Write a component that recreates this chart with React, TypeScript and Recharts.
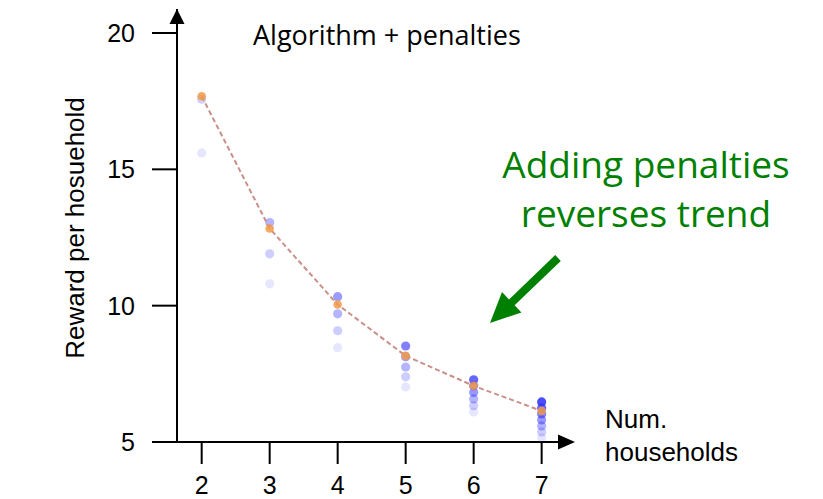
import React from "react"
import { ScatterChart, Scatter, XAxis, YAxis } from "recharts"

// number of households on the x axis
const householdCounts = [2, 3, 4, 5, 6, 7]

// mean reward per household (orange dots, dashed line)
const meanReward = [17.68, 12.83, 10.04, 8.16, 7.06, 6.14]

// individual runs (blue dots), top to bottom for each household count
const runRewards = [
    [17.57, 15.6],
    [13.05, 11.9, 10.8],
    [10.33, 9.7, 9.08, 8.46],
    [8.52, 8.13, 7.75, 7.39, 7.02],
    [7.28, 7.06, 6.82, 6.58, 6.33, 6.1],
    [6.47, 6.25, 6.03, 5.81, 5.59, 5.37, 5.15],
]

const xTicks = [2, 3, 4, 5, 6, 7]
const yTicks = [5, 10, 15, 20]

const meanTable = householdCounts.map((h, i) => ({ households: h, reward: meanReward[i] }))

const runTable = householdCounts.flatMap((h, i) =>
    runRewards[i].map((r, rank) => ({ households: h, reward: r, rank, count: runRewards[i].length }))
)

const axisFont = { fontFamily: "Liberation Sans, Arial, sans-serif", fontSize: 25, fill: "#000" }

const RunDot = (props: any) => {
    const { cx, cy, payload } = props
    // top of each column is the most saturated
    const top = 0.1 + 0.13 * (payload.count - 1)
    const bottom = 0.12
    const t = payload.count > 1 ? payload.rank / (payload.count - 1) : 0
    const op = top - (top - bottom) * t
    return <circle cx={cx} cy={cy} r={4.6} fill="#3333ff" fillOpacity={op} />
}

const MeanDot = (props: any) => {
    const { cx, cy } = props
    return <circle cx={cx} cy={cy} r={4.3} fill="#f09a48" fillOpacity={0.85} />
}

export default function App() {
    return (
        <div style={{ position: "absolute", left: 0, top: 0, width: 823, height: 499, background: "#fff" }}>
            <ScatterChart width={823} height={499} margin={{ top: 9, right: 250, bottom: 0, left: 0 }}>
                <XAxis
                    type="number"
                    dataKey="households"
                    domain={[1.637, 7.461]}
                    ticks={xTicks}
                    allowDataOverflow
                    height={57}
                    tickSize={22}
                    tickMargin={12}
                    axisLine={{ stroke: "#000", strokeWidth: 2 }}
                    tickLine={{ stroke: "#000", strokeWidth: 2 }}
                    tick={axisFont}
                />
                <YAxis
                    type="number"
                    dataKey="reward"
                    domain={[5, 20.88]}
                    ticks={yTicks}
                    allowDataOverflow
                    width={177}
                    tickSize={25}
                    tickMargin={17}
                    axisLine={{ stroke: "#000", strokeWidth: 2 }}
                    tickLine={{ stroke: "#000", strokeWidth: 2 }}
                    tick={axisFont}
                />
                <Scatter data={runTable} shape={RunDot} isAnimationActive={false} />
                <Scatter
                    data={meanTable}
                    shape={MeanDot}
                    line={{ stroke: "#c98f88", strokeWidth: 2, strokeDasharray: "5 3" }}
                    lineType="joint"
                    isAnimationActive={false}
                />
            </ScatterChart>

            {/* annotations */}
            <svg width={823} height={499} style={{ position: "absolute", left: 0, top: 0, pointerEvents: "none" }}>
                <polygon points="177,9 169.5,24 184.5,24" fill="#000" />
                <polygon points="575,442 558,434.5 558,449.5" fill="#000" />

                <text
                    transform="translate(84,228) rotate(-90)"
                    textAnchor="middle"
                    fontFamily="Liberation Sans, Arial, sans-serif"
                    fontSize={26}
                    fill="#000"
                >
                    Reward per hosuehold
                </text>
                <text x={605} y={428} fontFamily="Liberation Sans, Arial, sans-serif" fontSize={26} fill="#000">Num.</text>
                <text x={605} y={461} fontFamily="Liberation Sans, Arial, sans-serif" fontSize={26} fill="#000">households</text>

                <text x={253} y={45} fontFamily="Open Sans, sans-serif" fontSize={27} fill="#000">Algorithm + penalties</text>

                <text x={646} y={178} textAnchor="middle" fontFamily="Open Sans, sans-serif" fontSize={37} fill="#008000">
                    Adding penalties
                </text>
                <text x={646} y={227} textAnchor="middle" fontFamily="Open Sans, sans-serif" fontSize={37} fill="#008000">
                    reverses trend
                </text>

                <line x1={558} y1={258} x2={510} y2={304} stroke="#008000" strokeWidth={8} />
                <polygon points="490,323 502,292 521.4,312.4" fill="#008000" />
            </svg>
        </div>
    )
}
